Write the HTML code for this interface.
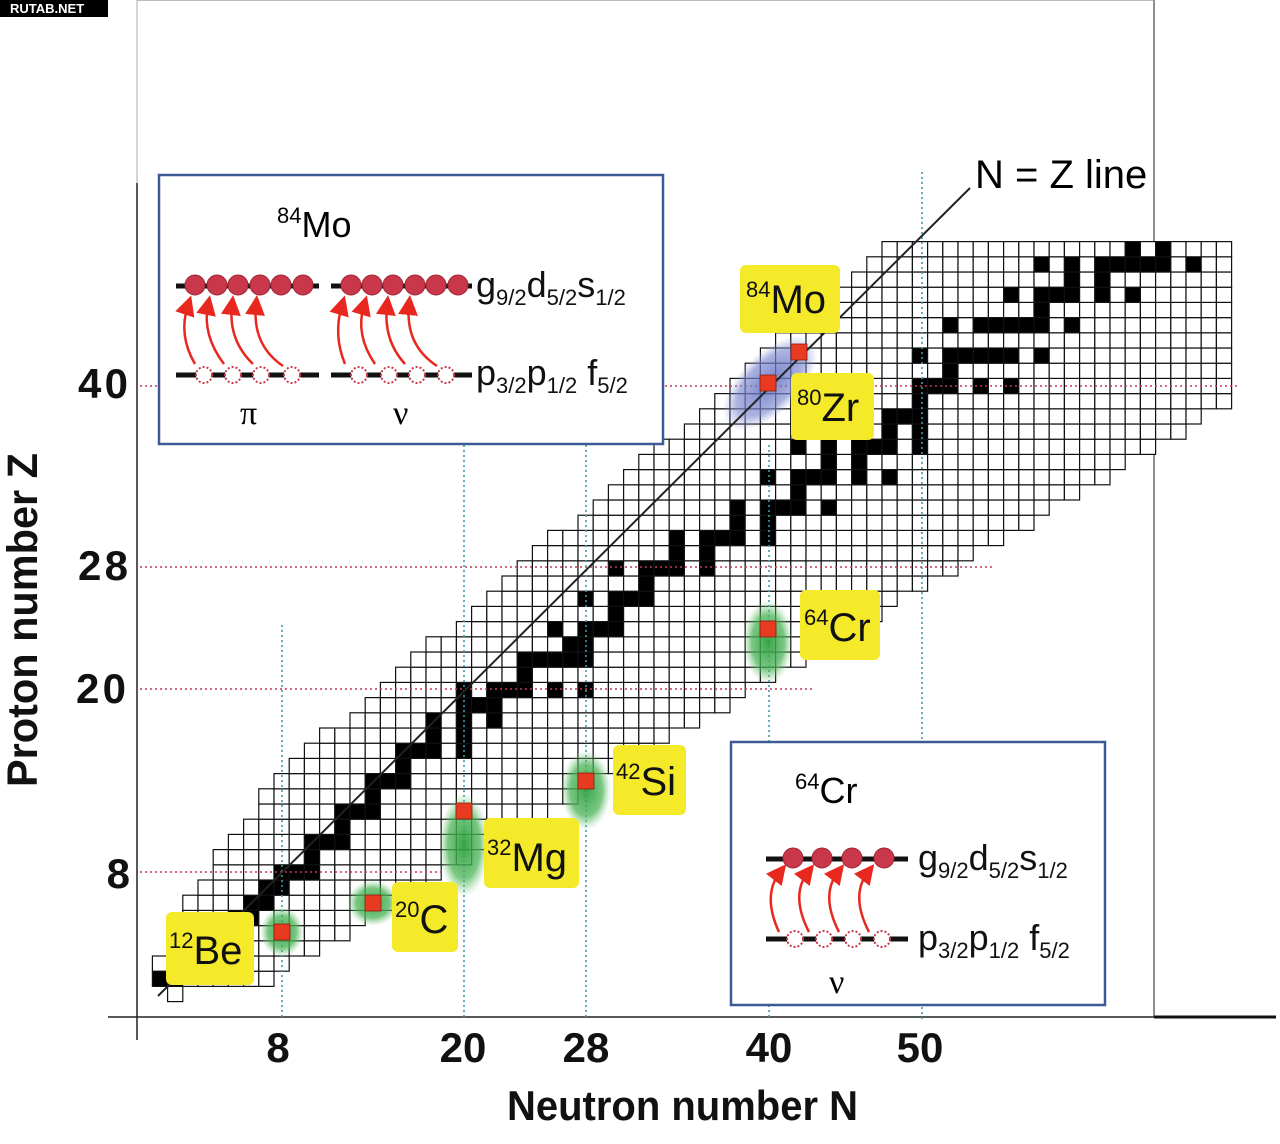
<!DOCTYPE html>
<html><head><meta charset="utf-8"><style>
html,body{margin:0;padding:0;background:#fff;}
svg{display:block;font-family:"Liberation Sans",sans-serif;}
</style></head><body>
<svg id="s" width="1280" height="1144" viewBox="0 0 1280 1144" xmlns="http://www.w3.org/2000/svg">
<defs>
<radialGradient id="gg"><stop offset="0" stop-color="#2fa040" stop-opacity="0.95"/><stop offset="0.65" stop-color="#4cb458" stop-opacity="0.75"/><stop offset="1" stop-color="#8fd08f" stop-opacity="0"/></radialGradient>
<radialGradient id="bg"><stop offset="0" stop-color="#5a6cc0" stop-opacity="0.85"/><stop offset="0.7" stop-color="#7f8ad0" stop-opacity="0.65"/><stop offset="1" stop-color="#a0a8e0" stop-opacity="0"/></radialGradient>
<marker id="ah" markerWidth="8" markerHeight="8" refX="4" refY="4" orient="auto"><path d="M0,0 L8,4 L0,8 z" fill="#e8281e"/></marker>
</defs>
<rect x="0" y="0" width="108" height="17" fill="#000"/>
<text x="10" y="13" font-size="13" font-weight="bold" fill="#fff">RUTAB.NET</text>
<line x1="137" y1="0" x2="1153" y2="0" stroke="#bbb" stroke-width="2"/>
<line x1="137" y1="0" x2="137" y2="183" stroke="#bbb" stroke-width="1.2"/>
<line x1="137" y1="183" x2="137" y2="1040" stroke="#222" stroke-width="1.5"/>
<line x1="1154" y1="0" x2="1154" y2="1017" stroke="#444" stroke-width="1.2"/>
<line x1="108" y1="1017" x2="1154" y2="1017" stroke="#222" stroke-width="1.5"/>
<line x1="1154" y1="1017" x2="1276" y2="1017" stroke="#111" stroke-width="3"/>
<g id="grid"></g>
<g id="dots" fill="none" stroke-width="1.6">
<line x1="140" y1="872" x2="445" y2="872" stroke="#c23a55" stroke-dasharray="2 3"/>
<line x1="140" y1="689" x2="815" y2="689" stroke="#c23a55" stroke-dasharray="2 3"/>
<line x1="140" y1="567" x2="995" y2="567" stroke="#c23a55" stroke-dasharray="2 3"/>
<line x1="140" y1="386" x2="1240" y2="386" stroke="#c23a55" stroke-dasharray="2 3"/>
<line x1="282" y1="625" x2="282" y2="1020" stroke="#3f9ab0" stroke-dasharray="2 3"/>
<line x1="464" y1="445" x2="464" y2="1020" stroke="#3f9ab0" stroke-dasharray="2 3"/>
<line x1="586" y1="445" x2="586" y2="1020" stroke="#3f9ab0" stroke-dasharray="2 3"/>
<line x1="769" y1="445" x2="769" y2="1020" stroke="#3f9ab0" stroke-dasharray="2 3"/>
<line x1="922" y1="172" x2="922" y2="1020" stroke="#3f9ab0" stroke-dasharray="2 3"/>
</g>
<ellipse cx="282" cy="932" rx="22" ry="25" fill="url(#gg)"/>
<ellipse cx="373" cy="903" rx="26" ry="23" fill="url(#gg)"/>
<ellipse cx="464" cy="845" rx="25" ry="52" fill="url(#gg)"/>
<ellipse cx="586" cy="790" rx="25" ry="40" fill="url(#gg)"/>
<ellipse cx="768" cy="642" rx="25" ry="42" fill="url(#gg)"/>
<ellipse cx="770" cy="383" rx="60" ry="30" transform="rotate(-45 770 383)" fill="url(#bg)"/>
<line x1="158" y1="996" x2="970" y2="188" stroke="#222" stroke-width="2"/>
<text x="975" y="188" font-size="40">N = Z line</text>
<g fill="#e83a20" stroke="#8a2010" stroke-width="0.8">
<rect x="274" y="924" width="16" height="16"/>
<rect x="365" y="895" width="16" height="16"/>
<rect x="456" y="803" width="16" height="16"/>
<rect x="578" y="773" width="16" height="16"/>
<rect x="760" y="621" width="16" height="16"/>
<rect x="760" y="375" width="16" height="16"/>
<rect x="791" y="344" width="16" height="16"/>
</g>
<g fill="#f5ea2a">
<rect x="740" y="265" width="100" height="68" rx="6"/>
<rect x="791" y="373" width="83" height="67" rx="6"/>
<rect x="800" y="590" width="80" height="70" rx="6"/>
<rect x="613" y="745" width="73" height="70" rx="6"/>
<rect x="484" y="818" width="95" height="70" rx="6"/>
<rect x="392" y="882" width="66" height="70" rx="6"/>
<rect x="166" y="912" width="88" height="73" rx="6"/>
</g>
<g font-size="40" fill="#111">
<text x="746" y="313"><tspan font-size="22" dy="-16">84</tspan><tspan dy="16">Mo</tspan></text>
<text x="797" y="421"><tspan font-size="22" dy="-16">80</tspan><tspan dy="16">Zr</tspan></text>
<text x="804" y="641"><tspan font-size="22" dy="-16">64</tspan><tspan dy="16">Cr</tspan></text>
<text x="616" y="795"><tspan font-size="22" dy="-16">42</tspan><tspan dy="16">Si</tspan></text>
<text x="487" y="871"><tspan font-size="22" dy="-16">32</tspan><tspan dy="16">Mg</tspan></text>
<text x="395" y="933"><tspan font-size="22" dy="-16">20</tspan><tspan dy="16">C</tspan></text>
<text x="169" y="964"><tspan font-size="22" dy="-16">12</tspan><tspan dy="16">Be</tspan></text>
</g>
<g font-size="42" font-weight="bold" fill="#111" text-anchor="end">
<text x="128" y="398" textLength="50">40</text>
<text x="128" y="580" textLength="50">28</text>
<text x="126" y="703" textLength="50">20</text>
<text x="130" y="888">8</text>
</g>
<g font-size="42" font-weight="bold" fill="#111" text-anchor="middle">
<text x="278" y="1062">8</text>
<text x="463" y="1062">20</text>
<text x="586" y="1062">28</text>
<text x="769" y="1062">40</text>
<text x="920" y="1062">50</text>
</g>
<text x="507" y="1120" font-size="42" font-weight="bold" textLength="351" lengthAdjust="spacingAndGlyphs" fill="#111">Neutron number N</text>
<text transform="translate(37 787) rotate(-90)" font-size="43" font-weight="bold" textLength="334" lengthAdjust="spacingAndGlyphs" fill="#111">Proton number Z</text>
<rect x="159" y="175" width="504" height="269" fill="#fff" stroke="#3d5a98" stroke-width="2.5"/>
<text x="277" y="237" font-size="36"><tspan font-size="22" dy="-14">84</tspan><tspan dy="14">Mo</tspan></text>
<g stroke="#111" stroke-width="5">
<line x1="176" y1="286" x2="319" y2="286"/><line x1="331" y1="286" x2="472" y2="286"/>
<line x1="176" y1="375" x2="319" y2="375"/><line x1="331" y1="375" x2="472" y2="375"/>
</g>
<g fill="#c8384a" stroke="#a02535" stroke-width="1">
<circle cx="195" cy="285" r="10"/><circle cx="217" cy="285" r="10"/><circle cx="238" cy="285" r="10"/><circle cx="260" cy="285" r="10"/><circle cx="281" cy="285" r="10"/><circle cx="303" cy="285" r="10"/>
<circle cx="351" cy="285" r="10"/><circle cx="372" cy="285" r="10"/><circle cx="393" cy="285" r="10"/><circle cx="415" cy="285" r="10"/><circle cx="436" cy="285" r="10"/><circle cx="458" cy="285" r="10"/>
</g>
<g fill="#fff" stroke="#c8384a" stroke-width="2" stroke-dasharray="2 2">
<circle cx="204" cy="375" r="8"/><circle cx="233" cy="375" r="8"/><circle cx="261" cy="375" r="8"/><circle cx="292" cy="375" r="8"/>
<circle cx="359" cy="375" r="8"/><circle cx="389" cy="375" r="8"/><circle cx="417" cy="375" r="8"/><circle cx="446" cy="375" r="8"/>
</g>
<g fill="none" stroke="#e8281e" stroke-width="2.5" marker-end="url(#ah)">
<path d="M195 364 Q178 335 188 305"/><path d="M224 364 Q202 335 208 305"/><path d="M253 364 Q228 340 232 305"/><path d="M283 366 Q252 345 256 305"/>
<path d="M345 364 Q333 335 342 305"/><path d="M375 364 Q355 335 364 305"/><path d="M405 364 Q383 340 387 305"/><path d="M437 366 Q405 345 409 305"/>
</g>
<g font-size="36" fill="#111">
<text x="476" y="297">g<tspan font-size="22" dy="8">9/2</tspan><tspan dy="-8">d</tspan><tspan font-size="22" dy="8">5/2</tspan><tspan dy="-8">s</tspan><tspan font-size="22" dy="8">1/2</tspan></text>
<text x="476" y="385">p<tspan font-size="22" dy="8">3/2</tspan><tspan dy="-8">p</tspan><tspan font-size="22" dy="8">1/2</tspan><tspan dy="-8"> f</tspan><tspan font-size="22" dy="8">5/2</tspan></text>
</g>
<text x="240" y="424" font-size="34" font-family="Liberation Serif,serif">π</text>
<text x="393" y="424" font-size="34" font-family="Liberation Serif,serif">ν</text>
<rect x="731" y="742" width="374" height="263" fill="#fff" stroke="#3d5a98" stroke-width="2.5"/>
<text x="795" y="803" font-size="36"><tspan font-size="22" dy="-14">64</tspan><tspan dy="14">Cr</tspan></text>
<g stroke="#111" stroke-width="5">
<line x1="766" y1="859" x2="908" y2="859"/><line x1="766" y1="939" x2="908" y2="939"/>
</g>
<g fill="#c8384a" stroke="#a02535" stroke-width="1">
<circle cx="793" cy="858" r="10"/><circle cx="822" cy="858" r="10"/><circle cx="852" cy="858" r="10"/><circle cx="884" cy="858" r="10"/>
</g>
<g fill="#fff" stroke="#c8384a" stroke-width="2" stroke-dasharray="2 2">
<circle cx="795" cy="939" r="8"/><circle cx="824" cy="939" r="8"/><circle cx="853" cy="939" r="8"/><circle cx="882" cy="939" r="8"/>
</g>
<g fill="none" stroke="#e8281e" stroke-width="2.5" marker-end="url(#ah)">
<path d="M779 932 Q762 895 780 872"/><path d="M809 932 Q790 895 808 872"/><path d="M839 932 Q820 895 838 872"/><path d="M869 932 Q850 895 868 872"/>
</g>
<g font-size="36" fill="#111">
<text x="918" y="870">g<tspan font-size="22" dy="8">9/2</tspan><tspan dy="-8">d</tspan><tspan font-size="22" dy="8">5/2</tspan><tspan dy="-8">s</tspan><tspan font-size="22" dy="8">1/2</tspan></text>
<text x="918" y="950">p<tspan font-size="22" dy="8">3/2</tspan><tspan dy="-8">p</tspan><tspan font-size="22" dy="8">1/2</tspan><tspan dy="-8"> f</tspan><tspan font-size="22" dy="8">5/2</tspan></text>
</g>
<text x="829" y="993" font-size="34" font-family="Liberation Serif,serif">ν</text>
</svg>
<script>
(function(){
var S={1:[0,1],2:[1,2],3:[3,4],4:[5],5:[5,6],6:[6,7],7:[7,8],8:[8,9,10],9:[10],10:[10,11,12],11:[12],12:[12,13,14],13:[14],14:[14,15,16],15:[16],16:[16,17,18,20],17:[18,20],18:[18,20,22],19:[20,21,22],20:[20,22,23,24,26,28],21:[24],22:[24,25,26,27,28],23:[27,28],24:[26,28,29,30],25:[30],26:[28,30,31,32],27:[32],28:[30,32,33,34,36],29:[34,36],30:[34,36,37,38,40],31:[38,40],32:[38,40,41,42,44],33:[42],34:[40,42,43,44,46,48],35:[44,46],36:[42,44,46,47,48,50],37:[48,50],38:[46,48,49,50],39:[50],40:[50,51,52,54,56],41:[52],42:[50,52,53,54,55,56,58],44:[52,54,55,56,57,58,60],45:[58],46:[56,58,59,60,62,64],47:[60,62],48:[58,60,62,63,64,65,66,68],49:[64,66]};
function nmin(z){var p=[[0,1],[1,0],[6,2],[14,8],[40,38],[49,48]];if(z<=1)return 0;for(var i=1;i<p.length;i++){if(z<=p[i][0]){var a=p[i-1],b=p[i];return Math.round(a[1]+(b[1]-a[1])*(z-a[0])/(b[0]-a[0]));}}return 48;}
function nmax(z){return Math.min(70,Math.round(51.7+1.67*(z-28)));}
var c=15.2,h='';
for(var z=0;z<=49;z++){
 var a=nmin(z),b=nmax(z);
 if(z==0){a=1;b=1;}
 for(var n=a;n<=b;n++){
  var x=160+c*n-c/2,y=994-c*z-c/2;
  var blk=S[z]&&S[z].indexOf(n)>=0;
  h+='<rect x="'+x.toFixed(1)+'" y="'+y.toFixed(1)+'" width="'+c+'" height="'+c+'" fill="'+(blk?'#000':'#fff')+'" stroke="#111" stroke-width="1.2"/>';
 }
}
document.getElementById('grid').innerHTML=h;
})();
</script>
</body></html>
